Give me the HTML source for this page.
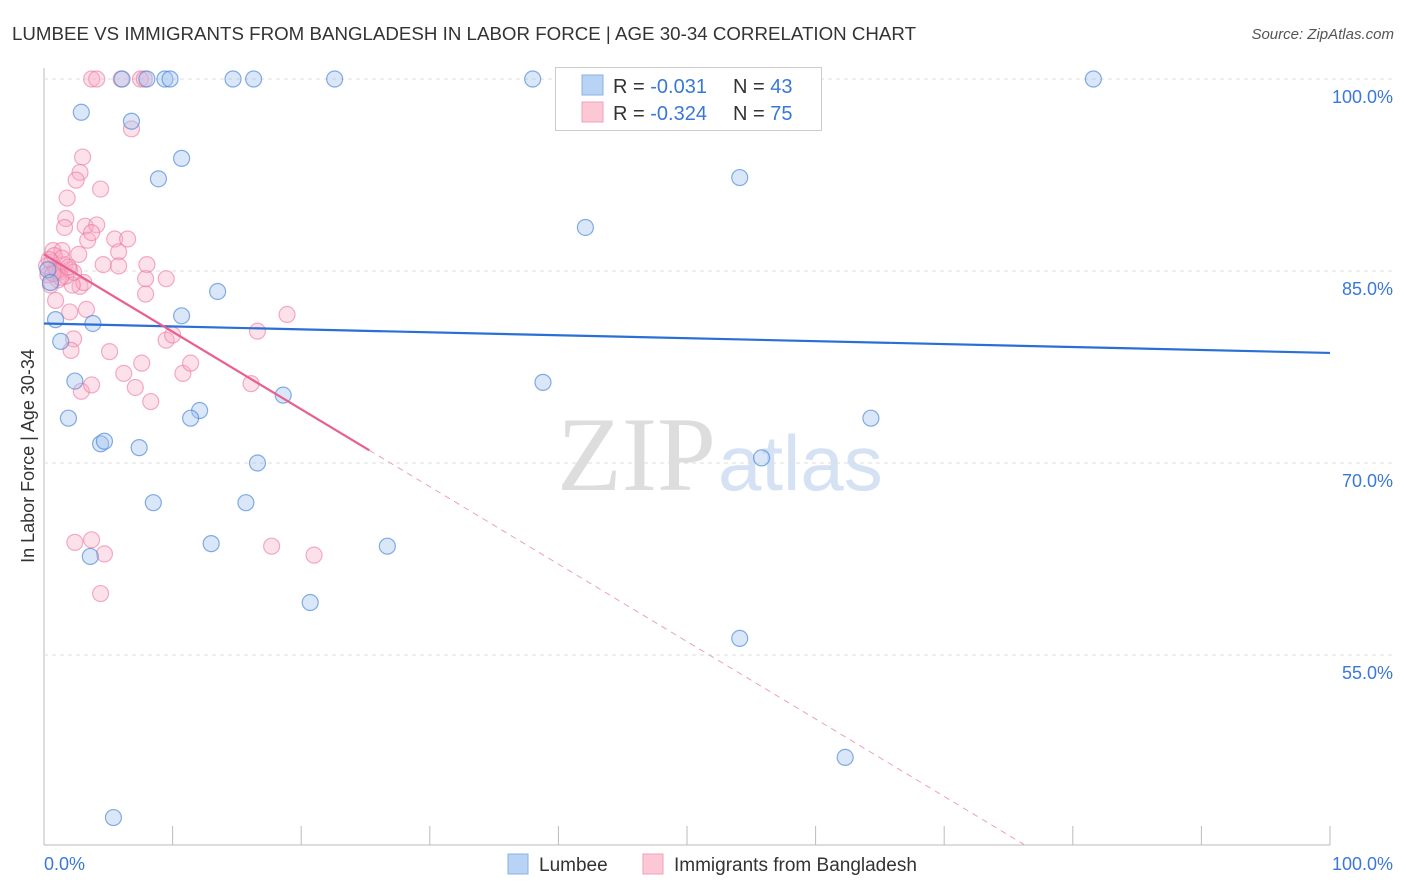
<!DOCTYPE html>
<html><head><meta charset="utf-8"><style>
body{margin:0;background:#fff;font-family:"Liberation Sans",sans-serif;}
#wrap{position:relative;width:1406px;height:892px;overflow:hidden;}
</style></head><body>
<div id="wrap">
<svg id="chart" width="1406" height="892">
<text x="12" y="40" font-size="18.7" fill="#333" textLength="904">LUMBEE VS IMMIGRANTS FROM BANGLADESH IN LABOR FORCE | AGE 30-34 CORRELATION CHART</text>
<text x="1394" y="39" font-size="15" fill="#555" font-style="italic" text-anchor="end">Source: ZipAtlas.com</text>
<text x="716" y="490" font-size="106" fill="#ddd" text-anchor="end" font-family="Liberation Serif,serif">ZIP</text>
<text x="718" y="490" font-size="78" fill="#d4e2f4">atlas</text>
<text transform="translate(34,456) rotate(-90)" font-size="18" fill="#333" text-anchor="middle">In Labor Force | Age 30-34</text>
<g id="grid"></g><g id="pts"></g><g id="lines"></g>
<g>
<rect x="555.5" y="67.5" width="266" height="63" fill="#fff" stroke="#ccc"/>
<rect x="582" y="75" width="21" height="20" fill="#b8d3f3" stroke="#88b0e8"/>
<rect x="582" y="102" width="21" height="20" fill="#fcc8d6" stroke="#f2a0b8"/>
<text x="613" y="93" font-size="20" fill="#333">R = <tspan fill="#3a78d8">-0.031</tspan></text>
<text x="733" y="93" font-size="20" fill="#333">N = <tspan fill="#3a78d8">43</tspan></text>
<text x="613" y="120" font-size="20" fill="#333">R = <tspan fill="#3a78d8">-0.324</tspan></text>
<text x="733" y="120" font-size="20" fill="#333">N = <tspan fill="#3a78d8">75</tspan></text>
</g>
<g>
<rect x="508" y="854" width="20" height="20" fill="#b8d3f3" stroke="#88b0e8"/>
<text x="539" y="871" font-size="19" fill="#333">Lumbee</text>
<rect x="643" y="854" width="20" height="20" fill="#fcc8d6" stroke="#f2a0b8"/>
<text x="674" y="871" font-size="19" fill="#333">Immigrants from Bangladesh</text>
</g>
</svg></div>
<script>
const yTicks=[100,85,70,55];
const yTickLabels=["100.0%","85.0%","70.0%","55.0%"];
const xTickLabels=["0.0%","100.0%"];
const blueX=[6.07,8.0,9.4,9.8,14.7,16.3,22.6,38.0,81.6,2.9,6.8,10.7,8.9,54.1,42.1,13.5,0.9,10.7,3.8,1.3,2.4,38.8,18.6,12.1,11.4,1.9,4.4,4.7,7.4,64.3,16.6,55.8,8.5,15.7,13.0,26.7,3.6,20.7,54.1,62.3,5.4,0.3,0.5];
const blueY=[100,100,100,100,100,100,100,100,100,97.4,96.7,93.8,92.2,92.3,88.4,83.4,81.2,81.5,80.9,79.5,76.4,76.3,75.3,74.1,73.5,73.5,71.5,71.7,71.2,73.5,70.0,70.4,66.9,66.9,63.7,63.5,62.7,59.1,56.3,47.0,42.3,85.1,84.1];
const pinkX=[3.7,4.1,6.0,7.5,7.8,6.8,3.0,2.8,2.5,4.4,1.8,1.7,1.6,3.2,4.1,3.4,3.7,5.5,6.5,0.7,1.4,2.7,4.6,5.8,5.8,8.0,7.9,9.5,7.9,2.8,3.1,2.2,0.9,2.0,3.3,9.5,10.0,16.6,18.9,2.3,2.1,5.1,6.2,7.6,10.8,11.4,2.9,3.7,7.1,8.3,16.1,2.4,3.7,4.7,4.4,17.7,21.0,0.6,0.9,1.2,0.3,1.6,1.1,1.7,2.0,0.8,1.4,2.3,0.5,0.2,1.0,1.3,0.4,0.7,1.9];
const pinkY=[100,100,100,100,100,96.1,93.9,92.7,92.1,91.4,90.7,89.1,88.4,88.5,88.6,87.4,88.0,87.5,87.5,86.6,86.6,86.3,85.5,86.5,85.4,85.5,84.4,84.4,83.2,83.8,84.1,83.9,82.7,81.8,82.0,79.6,80.0,80.3,81.6,79.7,78.8,78.7,77.0,77.8,77.0,77.8,75.6,76.1,75.9,74.8,76.2,63.8,64.0,62.9,59.8,63.5,62.8,85.7,85.2,84.9,84.7,85.5,84.3,84.6,85.1,86.2,86.0,84.9,83.9,85.4,85.0,84.5,85.9,84.8,85.3];
const blueTrend=[80.9,78.6];
const pinkTrend=[86.3,-0.605,25.3];
const X=v=>44+v*12.86, Y=v=>79+(100-v)*12.8;
const NS="http://www.w3.org/2000/svg";
function mk(t,a,p){const e=document.createElementNS(NS,t);for(const k in a)e.setAttribute(k,a[k]);p.appendChild(e);return e;}
const grid=document.getElementById('grid');
mk('line',{x1:44,y1:68,x2:44,y2:845,stroke:'#bbb'},grid);
mk('line',{x1:44,y1:845,x2:1330,y2:845,stroke:'#bbb'},grid);
yTicks.forEach((v,i)=>{
 const l=mk('line',{x1:44,y1:Y(v),x2:1394,y2:Y(v),stroke:'#ddd','stroke-dasharray':'4,4'},grid);
 
 
 const t=mk('text',{x:1393,y:Y(v)+24,'font-size':18,fill:'#3a78d8','text-anchor':'end'},grid);
 t.textContent=yTickLabels[i];
 
 
});
for(let i=0;i<=10;i++){mk('line',{x1:X(i*10),y1:826,x2:X(i*10),y2:845,stroke:'#bbb'},grid);}
const t0=mk('text',{x:44,y:870,'font-size':18,fill:'#3a78d8'},grid);t0.textContent=xTickLabels[0];


const t1=mk('text',{x:1393,y:870,'font-size':18,fill:'#3a78d8','text-anchor':'end'},grid);t1.textContent=xTickLabels[1];


const pts=document.getElementById('pts');
pinkX.forEach((x,i)=>{const c=mk('circle',{cx:X(x),cy:Y(pinkY[i]),r:8,fill:'rgba(248,170,195,0.35)',stroke:'rgba(235,120,160,0.6)','stroke-width':1.2},pts);
 
 });
blueX.forEach((x,i)=>{const c=mk('circle',{cx:X(x),cy:Y(blueY[i]),r:8,fill:'rgba(160,195,240,0.4)',stroke:'rgba(70,130,215,0.65)','stroke-width':1.2},pts);
 
 });
const lines=document.getElementById('lines');
const bl=mk('line',{x1:X(0),y1:Y(blueTrend[0]),x2:X(100),y2:Y(blueTrend[1]),stroke:'#2a6fd6','stroke-width':2.2},lines);


const pe=pinkTrend[2], py=v=>pinkTrend[0]+pinkTrend[1]*v;
const pl=mk('line',{x1:X(0),y1:Y(py(0)),x2:X(pe),y2:Y(py(pe)),stroke:'#e8608e','stroke-width':2.2},lines);


const xEnd=(pinkTrend[0]-40.2)/(-pinkTrend[1]);
const pd=mk('line',{x1:X(pe),y1:Y(py(pe)),x2:X(xEnd),y2:Y(py(xEnd)),stroke:'#eea0b8','stroke-width':1,'stroke-dasharray':'6,5'},lines);


</script>
</body></html>
